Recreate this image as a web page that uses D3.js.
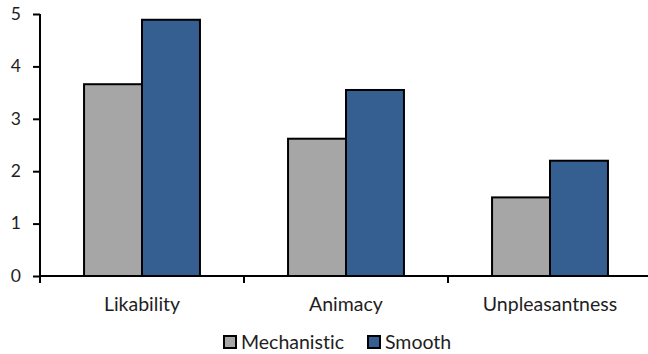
<!DOCTYPE html>
<html>
<head>
<meta charset="utf-8">
<script src="https://cdn.jsdelivr.net/npm/d3@7"></script>
<style>
  html, body { margin: 0; padding: 0; background: #fff; }
  svg { display: block; }
  text { font-family: Lato, "Open Sans", sans-serif; fill: #1e1e1e; font-variant-ligatures: none; font-feature-settings: "liga" 0, "dlig" 0; }
</style>
</head>
<body>
<svg id="chart" width="648" height="354"></svg>
<script>
// Ratings per scale for the two motion conditions
const categories = ["Likability", "Animacy", "Unpleasantness"];
const seriesNames = ["Mechanistic", "Smooth"];
const mechanistic = [3.66, 2.62, 1.50];
const smooth = [4.89, 3.55, 2.20];
const yTicks = [0, 1, 2, 3, 4, 5];
const colors = ["#a6a6a6", "#365f91"];

const values = [mechanistic, smooth];
const svg = d3.select("#chart");

const x0 = d3.scaleBand().domain(categories).range([40, 652]).paddingInner(0).paddingOuter(0);
const x1 = d3.scaleBand().domain(seriesNames).range([0, x0.bandwidth()]).paddingInner(0).paddingOuter(0.76);
const y = d3.scaleLinear().domain([0, 5]).range([276, 14]);

// bars
const groups = svg.selectAll("g.cat")
  .data(categories)
  .join("g")
  .attr("class", "cat")
  .attr("transform", d => `translate(${x0(d)},0)`);

groups.selectAll("rect")
  .data((c, i) => seriesNames.map((s, j) => ({ s, j, v: values[j][i] })))
  .join("rect")
  .attr("x", d => x1(d.s))
  .attr("y", d => y(d.v))
  .attr("width", x1.bandwidth())
  .attr("height", d => y(0) - y(d.v))
  .attr("fill", d => colors[d.j])
  .attr("stroke", "#000")
  .attr("stroke-width", 2);

// y axis
const yAxis = svg.append("g")
  .attr("transform", "translate(40,0)")
  .call(d3.axisLeft(y).tickValues(yTicks).tickSize(7).tickPadding(12).tickFormat(d3.format("d")));
yAxis.select(".domain").attr("stroke", "#000").attr("stroke-width", 2).attr("d", `M0,${y(5)}V${y(0)}`);
yAxis.selectAll(".tick line").attr("stroke", "#000").attr("stroke-width", 2);
yAxis.selectAll(".tick text")
  .attr("font-size", 17.5)
  .attr("font-family", "Lato, 'Open Sans', sans-serif")
  .attr("fill", "#1e1e1e")
  .attr("dy", "0.3em");

// x axis
const xAxis = svg.append("g").attr("transform", `translate(0,${y(0)})`);
xAxis.append("line")
  .attr("x1", 40).attr("x2", 652)
  .attr("stroke", "#000").attr("stroke-width", 2);
xAxis.selectAll("line.tk")
  .data(categories.map(c => x0(c)))
  .join("line")
  .attr("class", "tk")
  .attr("x1", d => d).attr("x2", d => d)
  .attr("y1", 0).attr("y2", 7)
  .attr("stroke", "#000").attr("stroke-width", 2);
xAxis.selectAll("text")
  .data(categories)
  .join("text")
  .attr("x", d => x0(d) + x0.bandwidth() / 2)
  .attr("y", 35)
  .attr("text-anchor", "middle")
  .attr("font-size", 19.5)
  .text(d => d);

// legend
const legendItems = [
  { name: seriesNames[0], color: colors[0], x: 224 },
  { name: seriesNames[1], color: colors[1], x: 368 }
];
const legend = svg.append("g").attr("transform", "translate(0,342)");
legendItems.forEach(it => {
  legend.append("rect")
    .attr("x", it.x).attr("y", -6)
    .attr("width", 12).attr("height", 12)
    .attr("fill", it.color)
    .attr("stroke", "#000").attr("stroke-width", 2);
  legend.append("text")
    .attr("x", it.x + 17).attr("y", 7)
    .attr("font-size", 19.5)
    .text(it.name);
});
</script>
</body>
</html>
